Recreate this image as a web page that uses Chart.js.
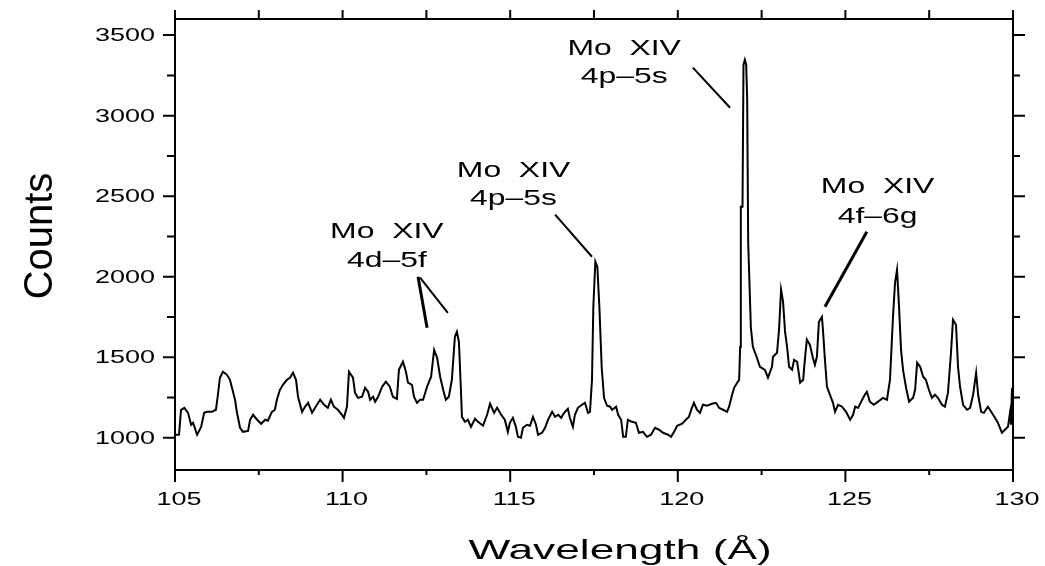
<!DOCTYPE html>
<html>
<head>
<meta charset="utf-8">
<script src="https://cdn.jsdelivr.net/npm/chart.js@4.4.1/dist/chart.umd.min.js"></script>
<style>
html,body{margin:0;padding:0;background:#fff;}
#wrap{width:1045px;height:566px;}
</style>
</head>
<body>
<div id="wrap"><canvas id="c" width="1045" height="566"></canvas></div>
<script>
// ---- data (wavelength in Å, counts) ----
const wavelengths = [
105.00,105.12,105.18,105.28,105.39,105.48,105.54,105.66,105.78,105.87,105.95,106.10,106.22,106.28,106.34,106.43,106.55,106.64,106.70,106.79,
106.85,106.94,107.03,107.18,107.24,107.33,107.45,107.57,107.69,107.77,107.89,107.98,108.04,108.13,108.22,108.34,108.43,108.52,108.61,108.67,
108.79,108.88,108.97,109.09,109.18,109.33,109.45,109.56,109.65,109.74,109.86,109.98,110.04,110.13,110.19,110.31,110.37,110.46,110.58,110.67,
110.76,110.82,110.91,110.97,111.06,111.18,111.29,111.41,111.50,111.62,111.68,111.80,111.89,111.95,112.07,112.13,112.22,112.31,112.40,112.52,
112.64,112.73,112.82,112.91,113.00,113.08,113.17,113.26,113.35,113.41,113.47,113.53,113.56,113.65,113.74,113.83,113.95,114.04,114.19,114.31,
114.40,114.52,114.61,114.73,114.84,114.93,114.99,115.08,115.17,115.23,115.32,115.38,115.50,115.59,115.68,115.77,115.83,115.95,116.04,116.13,
116.25,116.34,116.43,116.52,116.61,116.72,116.78,116.87,116.93,117.02,117.14,117.23,117.32,117.38,117.44,117.48,117.54,117.60,117.66,117.73,
117.80,117.89,117.98,118.04,118.16,118.22,118.31,118.37,118.45,118.51,118.63,118.75,118.84,118.96,119.08,119.20,119.32,119.44,119.56,119.71,
119.80,119.89,119.98,120.13,120.24,120.33,120.42,120.48,120.57,120.66,120.75,120.87,121.02,121.14,121.23,121.35,121.47,121.53,121.62,121.68,
121.77,121.83,121.86,121.88,121.93,121.96,122.00,122.04,122.07,122.10,122.18,122.24,122.36,122.45,122.60,122.69,122.81,122.84,122.96,123.02,
123.08,123.14,123.20,123.26,123.32,123.41,123.47,123.56,123.65,123.74,123.79,123.85,123.94,124.03,124.09,124.15,124.21,124.30,124.33,124.39,
124.45,124.54,124.63,124.69,124.78,124.90,125.02,125.14,125.23,125.29,125.38,125.50,125.58,125.64,125.73,125.85,125.97,126.12,126.24,126.33,
126.42,126.48,126.54,126.60,126.66,126.72,126.81,126.90,127.02,127.08,127.14,127.23,127.32,127.40,127.49,127.58,127.67,127.76,127.88,127.97,
128.06,128.15,128.21,128.30,128.36,128.42,128.51,128.63,128.72,128.81,128.90,128.96,129.05,129.13,129.25,129.37,129.46,129.55,129.67,129.76,
129.85,129.91,129.94,129.97,130.00
];
const counts = [
1019,1019,1174,1186,1155,1081,1093,1019,1068,1155,1161,1161,1174,1267,1373,1410,1391,1360,1310,1236,
1155,1062,1037,1043,1112,1143,1112,1087,1112,1106,1161,1174,1236,1298,1329,1360,1373,1404,1360,1255,
1161,1193,1217,1155,1186,1236,1205,1186,1236,1193,1174,1143,1124,1193,1410,1373,1280,1248,1255,1310,
1286,1236,1255,1224,1255,1317,1348,1317,1255,1242,1422,1472,1410,1342,1329,1255,1217,1236,1236,1317,
1379,1546,1497,1379,1298,1236,1255,1360,1627,1658,1596,1298,1130,1099,1112,1068,1118,1099,1075,1143,
1211,1155,1186,1143,1112,1037,1093,1124,1068,1006,1000,1062,1081,1075,1130,1081,1019,1031,1062,1112,
1161,1130,1143,1124,1155,1180,1124,1068,1143,1186,1205,1217,1155,1161,1360,1814,2093,2060,1814,1435,
1248,1199,1193,1174,1193,1143,1112,1006,1006,1112,1099,1093,1031,1037,1006,1019,1062,1050,1031,1019,
1006,1037,1075,1087,1112,1130,1186,1217,1174,1155,1205,1199,1211,1217,1186,1174,1161,1193,1267,1310,
1342,1360,1565,2435,2435,3316,3347,3316,3099,2211,1683,1565,1497,1441,1422,1373,1441,1503,1528,1671,
1919,1845,1658,1565,1441,1422,1484,1472,1342,1360,1484,1609,1578,1497,1453,1503,1720,1751,1671,1484,
1317,1267,1217,1161,1205,1193,1161,1112,1143,1193,1186,1236,1267,1286,1224,1205,1224,1248,1236,1360,
1751,1962,2043,1814,1546,1422,1310,1224,1248,1298,1466,1441,1379,1360,1298,1248,1267,1248,1205,1193,
1280,1528,1733,1702,1441,1317,1205,1174,1186,1267,1404,1267,1161,1155,1193,1155,1124,1093,1031,1050,
1068,1155,1081,1310,1093
];
const xTickValues = [105,110,115,120,125,130];
const xMinorValues = [107.5,112.5,117.5,122.5,127.5];
const yTickValues = [1000,1500,2000,2500,3000,3500];
const yMinorValues = [1250,1750,2250,2750,3250];
const xTitle = 'Wavelength (Å)';
const yTitle = 'Counts';
// annotation labels: [line1, line2, centre wavelength, baseline counts line1, baseline counts line2]
const labelText = [
  ['Mo  XIV','4d–5f',111.32,2242,2062],
  ['Mo  XIV','4p–5s',115.10,2621,2447],
  ['Mo  XIV','4p–5s',118.40,3378,3205],
  ['Mo  XIV','4f–6g',125.96,2521,2335]
];
// pointer lines: [from λ, from counts, to λ, to counts, width]
const pointerLines = [
  [112.25,2000,112.52,1683,3],
  [112.31,1994,113.14,1776,2],
  [116.34,2385,117.44,2124,2],
  [120.45,3298,121.56,3049,2],
  [125.64,2279,124.39,1814,3]
];

const FONT = '"Liberation Sans", Arial, Helvetica, sans-serif';
function sText(ctx, txt, x, y, size, sx, align, baseline){
  ctx.save();
  ctx.font = size + 'px ' + FONT;
  ctx.textAlign = align; ctx.textBaseline = baseline;
  ctx.translate(x, y); ctx.scale(sx, 1);
  ctx.fillText(txt, 0, 0);
  ctx.restore();
}

const framePlugin = {
  id: 'frame',
  afterDraw(chart){
    const ctx = chart.ctx, a = chart.chartArea;
    const xs = chart.scales.x, ys = chart.scales.y;
    ctx.save();
    ctx.strokeStyle = '#000'; ctx.fillStyle = '#000';
    ctx.lineWidth = 2;
    ctx.strokeRect(a.left, a.top, a.right - a.left, a.bottom - a.top);
    ctx.beginPath();
    xTickValues.forEach(v => { const p = xs.getPixelForValue(v);
      ctx.moveTo(p, a.bottom); ctx.lineTo(p, a.bottom + 12);
      ctx.moveTo(p, a.top); ctx.lineTo(p, a.top - 9); });
    xMinorValues.forEach(v => { const p = xs.getPixelForValue(v);
      ctx.moveTo(p, a.bottom); ctx.lineTo(p, a.bottom + 5);
      ctx.moveTo(p, a.top); ctx.lineTo(p, a.top - 9); });
    yTickValues.forEach(v => { const p = ys.getPixelForValue(v);
      ctx.moveTo(a.left, p); ctx.lineTo(a.left - 12, p);
      ctx.moveTo(a.right, p); ctx.lineTo(a.right + 12, p); });
    yMinorValues.forEach(v => { const p = ys.getPixelForValue(v);
      ctx.moveTo(a.left, p); ctx.lineTo(a.left - 8, p);
      ctx.moveTo(a.right, p); ctx.lineTo(a.right + 7, p); });
    ctx.stroke();
    // tick labels
    xTickValues.forEach(v => sText(ctx, String(v), xs.getPixelForValue(v) + 4, a.bottom + 30, 18, 1.5, 'center', 'middle'));
    yTickValues.forEach(v => sText(ctx, String(v), a.left - 20, ys.getPixelForValue(v) + 1, 18, 1.5, 'right', 'middle'));
    // axis titles
    sText(ctx, xTitle, (a.left + a.right) / 2 + 26, a.bottom + 89, 28, 1.58, 'center', 'alphabetic');
    ctx.save();
    ctx.font = '40px ' + FONT; ctx.textAlign = 'center'; ctx.textBaseline = 'alphabetic';
    ctx.translate(52, 236); ctx.rotate(-Math.PI / 2);
    ctx.fillText(yTitle, 0, 0);
    ctx.restore();
    // annotations
    pointerLines.forEach(l => {
      ctx.lineWidth = l[4];
      ctx.beginPath();
      ctx.moveTo(xs.getPixelForValue(l[0]), ys.getPixelForValue(l[1]));
      ctx.lineTo(xs.getPixelForValue(l[2]), ys.getPixelForValue(l[3]));
      ctx.stroke();
    });
    labelText.forEach(t => {
      const x = xs.getPixelForValue(t[2]);
      sText(ctx, t[0], x, ys.getPixelForValue(t[3]), 22, 1.45, 'center', 'alphabetic');
      sText(ctx, t[1], x, ys.getPixelForValue(t[4]), 22, 1.45, 'center', 'alphabetic');
    });
    ctx.restore();
  }
};

new Chart(document.getElementById('c'), {
  type: 'line',
  data: { datasets: [{
    data: wavelengths.map((w, i) => ({ x: w, y: counts[i] })),
    borderColor: '#000', borderWidth: 2, pointRadius: 0, tension: 0, fill: false
  }]},
  options: {
    responsive: false, animation: false, devicePixelRatio: 1,
    layout: { padding: { left: 175, right: 32, top: 19, bottom: 96 } },
    plugins: { legend: { display: false }, tooltip: { enabled: false } },
    scales: {
      x: { type: 'linear', min: 105, max: 130, display: false },
      y: { type: 'linear', min: 800, max: 3600, display: false }
    }
  },
  plugins: [framePlugin]
});
</script>
</body>
</html>
